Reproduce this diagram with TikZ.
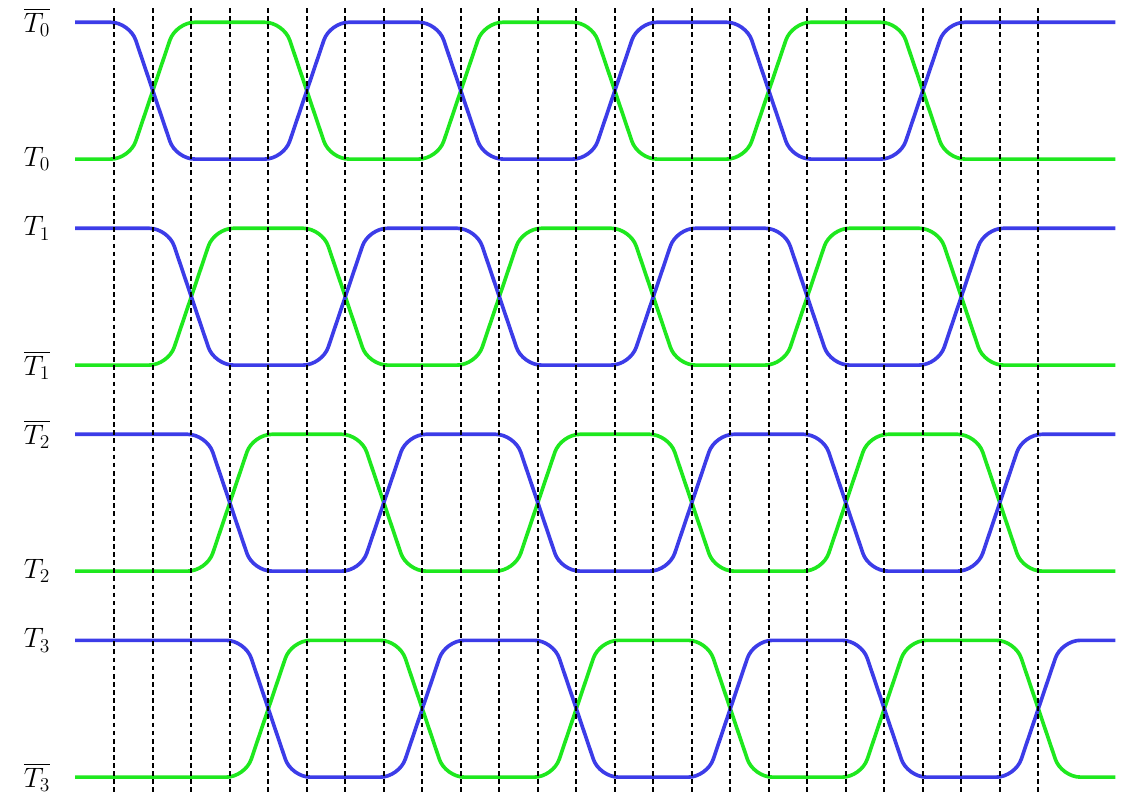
\documentclass[tikz,border=0pt]{standalone}
\usepackage{amsmath,amssymb}
\usepackage{tikz}
\definecolor{sigblue}{RGB}{60,60,232}
\definecolor{siggreen}{RGB}{30,232,30}
\tikzstyle{signal}=[line width=2.7pt, rounded corners=14pt]
\tikzstyle{tick}=[black, line width=1.3pt, dash pattern=on 3.5pt off 2.5pt]
\tikzstyle{siglabel}=[inner sep=0pt, font=\fontsize{21}{23}\selectfont]

\begin{document}
\begin{tikzpicture}
	\useasboundingbox (-2.969,0) rectangle (26.226,-20.623);
	%% the rails of each pair, with their labels
	\foreach \k/\up/\dn in {0/{\overline{T_0}}/{T_0}, 1/{T_1}/{\overline{T_1}},
			2/{\overline{T_2}}/{T_2}, 3/{T_3}/{\overline{T_3}}} {
		\pgfmathsetmacro{\yt}{-0.579-5.351*\k}
		\pgfmathsetmacro{\yb}{\yt-3.553}
		\node[siglabel] (up\k) at (-2.01,\yt) {$\up$};
		\node[siglabel] (dn\k) at (-2.01,\yb) {$\dn$};
		\draw[signal, siggreen] (-1.02,\yb)
			\foreach \i in {0,1,2} {
				-- (\k+0.4+8*\i,\yb) -- (\k+1.6+8*\i,\yt)
				-- (\k+4.4+8*\i,\yt) -- (\k+5.6+8*\i,\yb)
			} -- (26,\yb);
		\draw[signal, sigblue] (-1.02,\yt)
			\foreach \i in {0,1,2} {
				-- (\k+0.4+8*\i,\yt) -- (\k+1.6+8*\i,\yb)
				-- (\k+4.4+8*\i,\yb) -- (\k+5.6+8*\i,\yt)
			} -- (26,\yt);
	}
	%% the clock ticks
	\foreach \x in {0,...,24}
		\draw[tick] (\x,-0.21) -- (\x,-20.623);
\end{tikzpicture}
\end{document}
